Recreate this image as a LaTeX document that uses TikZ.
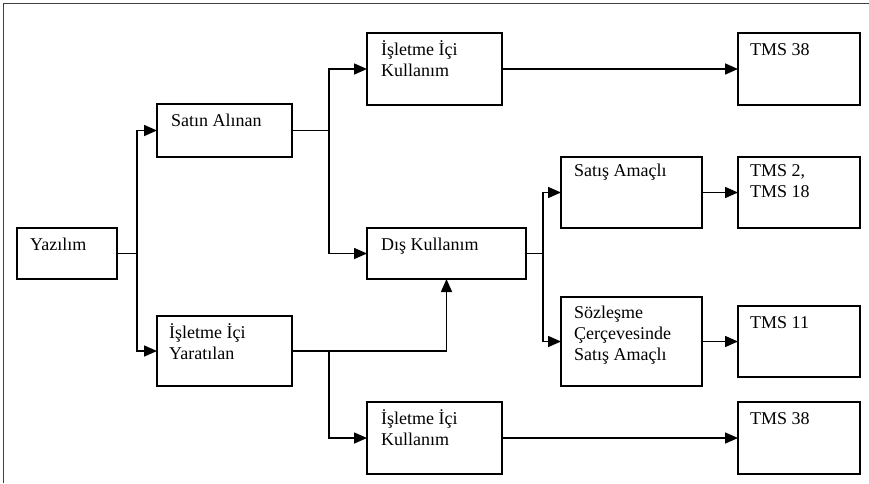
\documentclass[tikz,border=0pt]{standalone}
\usepackage{fontspec}
\setmainfont{Liberation Serif}
\usetikzlibrary{arrows.meta,calc}
\begin{document}
\begin{tikzpicture}[x=1pt,y=1pt,
  boxnode/.style={draw=black, line width=1.6pt, rectangle, inner sep=0pt, outer sep=0pt, anchor=north west},
  txt/.style={anchor=north west, inner sep=0pt, align=left, font=\fontsize{18}{21}\selectfont},
  conn/.style={line width=1.6pt},
  arr/.style={conn, -{Triangle[length=13pt,width=11pt]}}]
\useasboundingbox (0,0) rectangle (869,-483);
\draw[black!75, line width=1.6pt] (3.5,-483) -- (3.5,-3.5) -- (869,-3.5);

% boxes
\node[boxnode, minimum width=100pt, minimum height=51pt] (yaz)   at (17,-228) {};
\node[boxnode, minimum width=135pt, minimum height=53pt] (satin) at (157,-104) {};
\node[boxnode, minimum width=135pt, minimum height=70pt] (yarat) at (157,-316) {};
\node[boxnode, minimum width=135pt, minimum height=72pt] (kul1)  at (367,-33) {};
\node[boxnode, minimum width=159pt, minimum height=51pt] (dis)   at (367,-228) {};
\node[boxnode, minimum width=135pt, minimum height=72pt] (kul2)  at (367,-402) {};
\node[boxnode, minimum width=141pt, minimum height=71pt] (satis) at (561,-157) {};
\node[boxnode, minimum width=141pt, minimum height=89pt] (soz)   at (561,-297) {};
\node[boxnode, minimum width=122pt, minimum height=72pt] (tms1)  at (738,-33) {};
\node[boxnode, minimum width=122pt, minimum height=71pt] (tms2)  at (738,-157) {};
\node[boxnode, minimum width=122pt, minimum height=71pt] (tms3)  at (738,-306) {};
\node[boxnode, minimum width=122pt, minimum height=72pt] (tms4)  at (738,-402) {};

% texts
\node[txt] (tyaz)   at ($(yaz.north west)+(13,-7.5)$)   {\strut Yazılım};
\node[txt] (tsatin) at ($(satin.north west)+(14,-8)$)   {\strut Satın Alınan};
\node[txt] (tyarat) at ($(yarat.north west)+(12,-7.5)$) {\strut İşletme İçi\\\strut Yaratılan};
\node[txt] (tkul1)  at ($(kul1.north west)+(14,-7.5)$)  {\strut İşletme İçi\\\strut Kullanım};
\node[txt] (tdis)   at ($(dis.north west)+(14,-7.5)$)   {\strut Dış Kullanım};
\node[txt] (tkul2)  at ($(kul2.north west)+(14,-7.5)$)  {\strut İşletme İçi\\\strut Kullanım};
\node[txt] (tsatis) at ($(satis.north west)+(13,-5)$)   {\strut Satış Amaçlı};
\node[txt] (tsoz)   at ($(soz.north west)+(13,-7)$)     {\strut Sözleşme\\\strut Çerçevesinde\\\strut Satış Amaçlı};
\node[txt] (ttms1)  at ($(tms1.north west)+(12,-7.5)$)  {\strut TMS 38};
\node[txt] (ttms2)  at ($(tms2.north west)+(12,-5)$)    {\strut TMS 2,\\\strut TMS 18};
\node[txt] (ttms3)  at ($(tms3.north west)+(12,-7.5)$)  {\strut TMS 11};
\node[txt] (ttms4)  at ($(tms4.north west)+(12,-7.5)$)  {\strut TMS 38};

% junctions
\coordinate (j1) at (137,-253.5);
\coordinate (j2) at (329,-130.5);
\coordinate (j3) at (543,-253.5);
\coordinate (j4) at (329,-351);

% connectors
\draw[conn] (yaz.east) -- (j1);
\draw[arr] (j1) |- (satin.west);
\draw[arr] (j1) |- (yarat.west);

\draw[conn] (satin.east) -- (j2);
\draw[arr] (j2) |- (kul1.west);
\draw[arr] (j2) |- (dis.west);

\draw[arr] (kul1.east) -- (tms1.west);

\draw[conn] (dis.east) -- (j3);
\draw[arr] (j3) |- (satis.west);
\draw[arr] (j3) |- (soz.west);
\draw[arr] (satis.east) -- (tms2.west);
\draw[arr] (soz.east) -- (tms3.west);

\draw[arr] (yarat.east) -| (dis.south);
\draw[arr] (j4) |- (kul2.west);
\draw[arr] (kul2.east) -- (tms4.west);
\end{tikzpicture}
\end{document}
